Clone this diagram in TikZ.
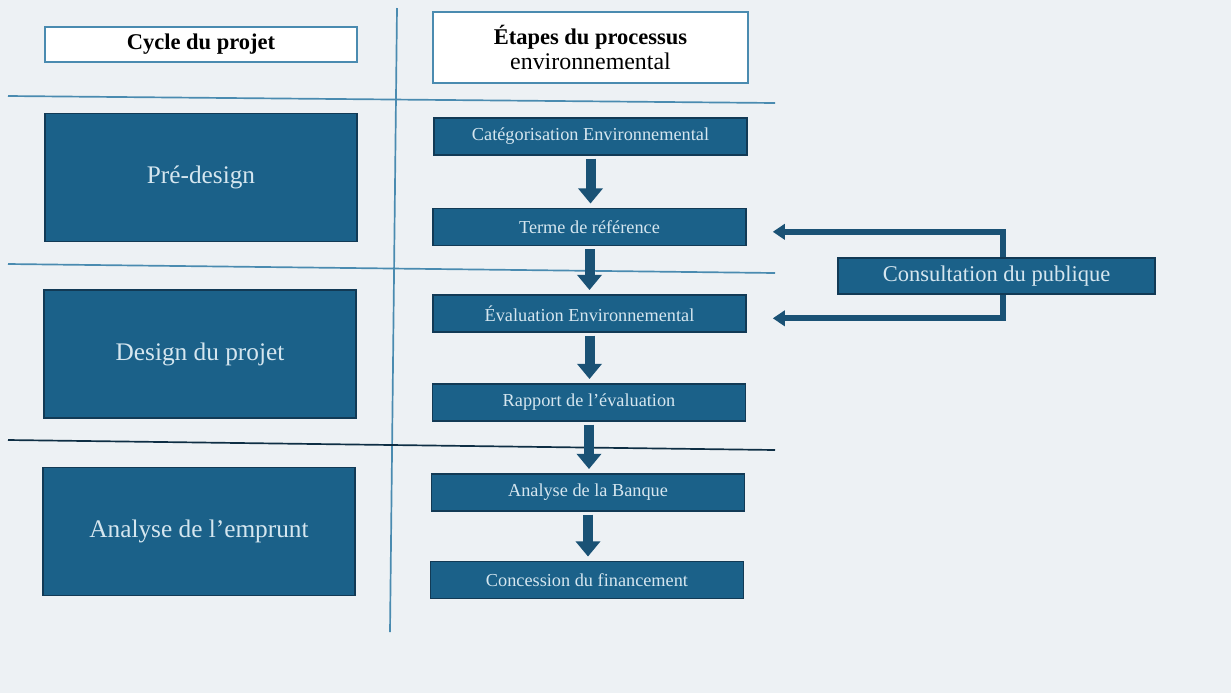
\documentclass[tikz,border=0pt]{standalone}
\usepackage{fontspec}
\setmainfont{Liberation Serif}
\usetikzlibrary{arrows.meta}
\definecolor{bgcol}{HTML}{EDF1F4}
\definecolor{boxblue}{HTML}{1B6189}
\definecolor{boxedge}{HTML}{123A55}
\definecolor{boxtext}{HTML}{D5E6EF}
\definecolor{rulecol}{HTML}{4A8BB0}
\definecolor{arrowcol}{HTML}{1A5275}
\tikzstyle{headbox}=[draw=rulecol, line width=1.6pt, fill=white, align=center, inner sep=0pt, font=\bfseries\fontsize{16}{18}\selectfont]
\tikzstyle{phasebox}=[draw=boxedge, line width=1.2pt, fill=boxblue, text=boxtext, minimum width=7.8cm, minimum height=3.2cm, inner sep=0pt, font=\fontsize{18}{20}\selectfont]
\tikzstyle{stepbox}=[draw=boxedge, line width=1.2pt, fill=boxblue, text=boxtext, minimum width=7.82cm, minimum height=0.92cm, inner sep=0pt, font=\fontsize{13}{15}\selectfont]
\tikzstyle{flowarrow}=[draw=arrowcol, line width=0.25cm, -{Triangle[width=0.6cm,length=0.38cm]}, shorten <=2pt, shorten >=3pt]
\tikzstyle{feedarrow}=[draw=arrowcol, line width=0.15cm, -{Triangle[width=0.38cm,length=0.3cm]}, shorten >=0.65cm]
\tikzstyle{divider}=[draw=rulecol, line width=1.2pt]

\begin{document}
\begin{tikzpicture}[x=0.025cm, y=-0.025cm]

\fill[bgcol] (0,0) rectangle (1231,693);
\useasboundingbox (0,0) rectangle (1231,693);

% column and row rules
\draw[divider] (397,8) -- (390,632);
\draw[divider] (8,96) -- (775,103);
\draw[divider] (8,264) -- (775,273);
\draw[divider, draw=boxedge!80!black] (8,440) -- (775,450);

% headers
\node[headbox, minimum width=7.8cm, minimum height=0.875cm] (hcycle) at (201,44.5) {Cycle du projet};
\node[headbox, minimum width=7.875cm, minimum height=1.775cm] (hsteps) at (590.5,47.5) {\'Etapes du processus\\{\mdseries\fontsize{17}{19}\selectfont environnemental}};

% phases of the project cycle
\foreach \pos/\name/\txt in {{(201,177.5)/pre/Pr\'e-design}, {(200,354)/des/Design du projet}, {(199,531.5)/ana/Analyse de l’emprunt}}
    \node[phasebox] (\name) at \pos {\txt};

% environmental steps
\foreach \pos/\name/\txt in {{(590.5,136.5)/cat/Cat\'egorisation Environnemental}, {(589.5,227)/term/Terme de r\'ef\'erence}, {(589.5,313.5)/eval/\'Evaluation Environnemental}, {(589,402.5)/rapp/Rapport de l’\'evaluation}, {(588,492.5)/banq/Analyse de la Banque}, {(587,580)/conc/Concession du financement}}
    \node[stepbox] (\name) at \pos {\txt};

\node[stepbox, minimum width=7.925cm, minimum height=0.9cm, font=\fontsize{16}{18}\selectfont] (cons) at (996.5,276) {Consultation du publique};

% flow between steps
\foreach \source/\dest in {cat/term, term/eval, eval/rapp, rapp/banq, banq/conc}
    \draw[flowarrow] (\source.south) -- (\source.south |- \dest.north);

% feedback from the public
\draw[feedarrow] ([xshift=0.16cm]cons.north) |- ([yshift=-0.12cm]term.east);
\draw[feedarrow] ([xshift=0.16cm]cons.south) |- ([yshift=-0.12cm]eval.east);

\end{tikzpicture}
\end{document}
